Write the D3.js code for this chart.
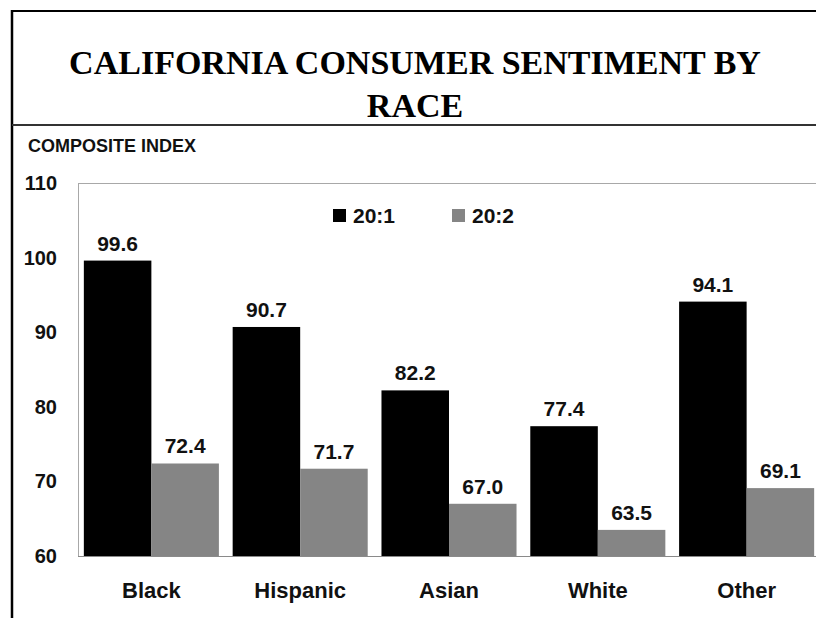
<!DOCTYPE html>
<html>
<head>
<meta charset="utf-8">
<script src="https://cdn.jsdelivr.net/npm/d3@7"></script>
<style>
  body { margin: 0; background: #fff; }
  text { font-family: "Liberation Sans", Arial, sans-serif; font-weight: bold; fill: #111; }
  .title { font-family: "Liberation Serif", "Times New Roman", serif; font-size: 34px; fill: #000; }
</style>
</head>
<body>
<svg id="chart"></svg>
<script>
// ---- data ----
const races = ["Black", "Hispanic", "Asian", "White", "Other"];
const seriesNames = ["20:1", "20:2"];
const values201 = [99.6, 90.7, 82.2, 77.4, 94.1];
const values202 = [72.4, 71.7, 67.0, 63.5, 69.1];
const yTicks = [60, 70, 80, 90, 100, 110];

const colors = { "20:1": "#000000", "20:2": "#858585" };

const width = 816, height = 618;
const svg = d3.select("#chart").attr("width", width).attr("height", height);

// outer frame (top + left) and title separator
svg.append("line").attr("x1", 12).attr("x2", width).attr("y1", 11).attr("y2", 11)
    .attr("stroke", "#000").attr("stroke-width", 2);
svg.append("line").attr("x1", 12).attr("x2", 12).attr("y1", 10).attr("y2", height)
    .attr("stroke", "#000").attr("stroke-width", 2.5);
svg.append("line").attr("x1", 12).attr("x2", width).attr("y1", 125).attr("y2", 125)
    .attr("stroke", "#333").attr("stroke-width", 2);

// title
svg.append("text").attr("class", "title")
    .attr("x", 415).attr("y", 74).attr("text-anchor", "middle")
    .text("CALIFORNIA CONSUMER SENTIMENT BY");
svg.append("text").attr("class", "title")
    .attr("x", 415).attr("y", 117).attr("text-anchor", "middle")
    .text("RACE");

svg.append("text")
    .attr("x", 28).attr("y", 152)
    .style("font-size", "18px")
    .text("COMPOSITE INDEX");

// ---- scales ----
const plotLeft = 78, plotTop = 183, plotBottom = 556;

const x = d3.scaleBand()
    .domain(races)
    .range([77, 821])
    .paddingInner(0.0925)
    .paddingOuter(0.046);

const xSub = d3.scaleBand()
    .domain(seriesNames)
    .range([0, x.bandwidth()]);

const y = d3.scaleLinear()
    .domain([60, 110])
    .range([plotBottom, plotTop]);

// plot frame
svg.append("line").attr("x1", plotLeft).attr("x2", width)
    .attr("y1", plotTop + 0.5).attr("y2", plotTop + 0.5)
    .attr("stroke", "#a8a8a8").attr("stroke-width", 1);
svg.append("line").attr("x1", plotLeft + 0.5).attr("x2", plotLeft + 0.5)
    .attr("y1", plotTop).attr("y2", plotBottom)
    .attr("stroke", "#a8a8a8").attr("stroke-width", 1);

// y axis labels
const yAxis = d3.axisLeft(y).tickValues(yTicks).tickSize(0).tickPadding(0);
const yAxisG = svg.append("g")
    .attr("transform", "translate(57,0)")
    .call(yAxis);
yAxisG.select(".domain").remove();
yAxisG.selectAll("text")
    .style("font-size", "20px")
    .style("font-family", "\"Liberation Sans\", Arial, sans-serif")
    .attr("fill", "#111");

// ---- bars ----
const rows = races.map((r, i) => ({ race: r, "20:1": values201[i], "20:2": values202[i] }));

const groups = svg.selectAll(".group")
    .data(rows)
    .enter()
    .append("g")
    .attr("class", "group")
    .attr("transform", d => `translate(${x(d.race)},0)`);

const bars = groups.selectAll(".bar")
    .data(d => seriesNames.map(s => ({ key: s, value: d[s] })))
    .enter();

bars.append("rect")
    .attr("class", "bar")
    .attr("x", d => xSub(d.key))
    .attr("y", d => y(d.value))
    .attr("width", xSub.bandwidth())
    .attr("height", d => plotBottom - y(d.value))
    .attr("fill", d => colors[d.key]);

bars.append("text")
    .attr("x", d => xSub(d.key) + xSub.bandwidth() / 2)
    .attr("y", d => y(d.value) - 10)
    .attr("text-anchor", "middle")
    .style("font-size", "21px")
    .text(d => d.value.toFixed(1));

// x axis line + labels
svg.append("line").attr("x1", plotLeft).attr("x2", width)
    .attr("y1", plotBottom + 0.5).attr("y2", plotBottom + 0.5)
    .attr("stroke", "#8a8a8a").attr("stroke-width", 1.2);

const xAxis = d3.axisBottom(x).tickSize(0).tickPadding(0);
const xAxisG = svg.append("g")
    .attr("transform", `translate(0,${plotBottom})`)
    .call(xAxis);
xAxisG.select(".domain").remove();
xAxisG.selectAll("text")
    .attr("dy", null)
    .attr("y", 42)
    .style("font-size", "22px")
    .style("font-family", "\"Liberation Sans\", Arial, sans-serif")
    .attr("fill", "#111");

// legend
const legendX = [333, 452];
const legend = svg.selectAll(".legend")
    .data(seriesNames)
    .enter()
    .append("g")
    .attr("class", "legend")
    .attr("transform", (d, i) => `translate(${legendX[i]},209)`);

legend.append("rect")
    .attr("width", 13).attr("height", 13)
    .attr("fill", d => colors[d]);

legend.append("text")
    .attr("x", 20).attr("y", 14)
    .style("font-size", "21px")
    .text(d => d);
</script>
</body>
</html>
